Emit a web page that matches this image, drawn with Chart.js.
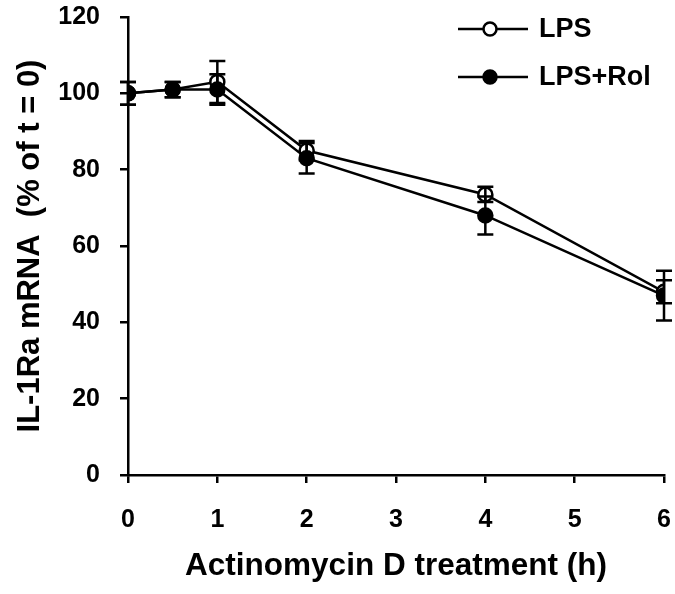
<!DOCTYPE html>
<html>
<head>
<meta charset="utf-8">
<script src="https://cdn.jsdelivr.net/npm/chart.js@4"></script>
<style>
  html, body { margin: 0; padding: 0; background: #fff; }
  #wrap { width: 675px; height: 594px; }
</style>
</head>
<body>
<div id="wrap"><canvas id="chart" width="675" height="594"></canvas></div>
<script>
const hours = [0, 0.5, 1, 2, 4, 6];
const lpsValues = [100, 101, 103, 85, 73.5, 48];
const lpsErrors = [3, 2, 5.5, 2.5, 2, 3];
const rolValues = [100, 101, 101, 83, 68, 47];
const rolErrors = [3, 2, 4, 4, 5, 6.5];
const xTicks = [0, 1, 2, 3, 4, 5, 6];

const font = "'Liberation Sans', Arial, sans-serif";

// draws error bars from the scales
const errorBars = {
    id: 'errorBars',
    afterDatasetsDraw(chart) {
        const ctx = chart.ctx;
        const x = chart.scales.x, y = chart.scales.y;
        const sets = [[lpsValues, lpsErrors], [rolValues, rolErrors]];
        ctx.save();
        ctx.strokeStyle = '#000';
        ctx.lineWidth = 2.5;
        sets.forEach(([vals, errs]) => {
            vals.forEach((v, i) => {
                const px = x.getPixelForValue(hours[i]);
                const top = y.getPixelForValue(v + errs[i]);
                const bot = y.getPixelForValue(v - errs[i]);
                ctx.beginPath();
                ctx.moveTo(px, top); ctx.lineTo(px, bot);
                ctx.moveTo(px - 8, top); ctx.lineTo(px + 8, top);
                ctx.moveTo(px - 8, bot); ctx.lineTo(px + 8, bot);
                ctx.stroke();
            });
        });
        ctx.restore();
    }
};

// legend in the top right corner
const cornerLegend = {
    id: 'cornerLegend',
    afterDraw(chart) {
        const ctx = chart.ctx;
        const rows = [['LPS', '#fff', 29], ['LPS+Rol', '#000', 77]];
        ctx.save();
        rows.forEach(([label, fill, yy]) => {
            ctx.strokeStyle = '#000';
            ctx.lineWidth = 2.5;
            ctx.beginPath();
            ctx.moveTo(458, yy); ctx.lineTo(528, yy);
            ctx.stroke();
            ctx.beginPath();
            ctx.arc(490, yy, 6.5, 0, Math.PI * 2);
            ctx.fillStyle = fill;
            ctx.fill();
            ctx.stroke();
            ctx.fillStyle = '#000';
            ctx.font = 'bold 27px ' + font;
            ctx.textBaseline = 'middle';
            ctx.fillText(label, 539, yy + 1);
        });
        ctx.restore();
    }
};

new Chart(document.getElementById('chart'), {
    type: 'scatter',
    data: {
        datasets: [
            {
                label: 'LPS',
                data: hours.map((h, i) => ({ x: h, y: lpsValues[i] })),
                showLine: true,
                order: 1,
                borderColor: '#000',
                borderWidth: 2.5,
                pointRadius: 7,
                pointBackgroundColor: '#fff',
                pointBorderColor: '#000',
                pointBorderWidth: 2.5
            },
            {
                label: 'LPS+Rol',
                data: hours.map((h, i) => ({ x: h, y: rolValues[i] })),
                showLine: true,
                order: 0,
                borderColor: '#000',
                borderWidth: 2.5,
                pointRadius: 7,
                pointBackgroundColor: '#000',
                pointBorderColor: '#000',
                pointBorderWidth: 2.5
            }
        ]
    },
    options: {
        responsive: false,
        animation: false,
        layout: { padding: { top: 17, right: 11, left: 0, bottom: 0 } },
        plugins: { legend: { display: false }, tooltip: { enabled: false } },
        scales: {
            x: {
                type: 'linear',
                min: 0, max: 6,
                afterBuildTicks: s => { s.ticks = xTicks.map(v => ({ value: v })); },
                afterFit: s => { s.height = 119; s.paddingLeft = 0; s.paddingRight = 0; },
                border: { color: '#000', width: 2.5 },
                grid: { drawOnChartArea: false, color: '#000', lineWidth: 2.5, tickLength: 8 },
                ticks: { color: '#000', padding: 22, font: { family: font, size: 25, weight: 'bold' } },
                title: {
                    display: true, text: 'Actinomycin D treatment (h)', color: '#000',
                    padding: { top: 4, bottom: 9 },
                    font: { family: font, size: 31.5, weight: 'bold' }
                }
            },
            y: {
                min: 0, max: 120,
                afterFit: s => { s.width = 128; s.paddingTop = 0; s.paddingBottom = 0; },
                border: { color: '#000', width: 2.5 },
                grid: { drawOnChartArea: false, color: '#000', lineWidth: 2.5, tickLength: 8 },
                ticks: { stepSize: 20, color: '#000', padding: 20, font: { family: font, size: 25, weight: 'bold' } },
                title: {
                    display: true, text: 'IL-1Ra mRNA  (% of t = 0)', color: '#000',
                    padding: { top: 12, bottom: 4 },
                    font: { family: font, size: 31, weight: 'bold' }
                }
            }
        }
    },
    plugins: [errorBars, cornerLegend]
});
</script>
</body>
</html>
